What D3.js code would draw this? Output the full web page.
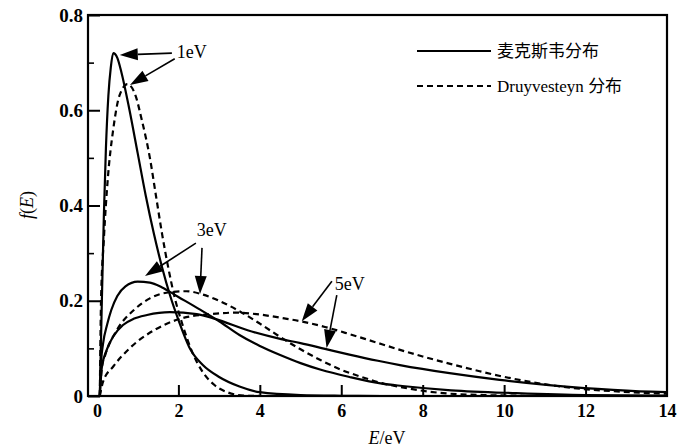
<!DOCTYPE html>
<html><head><meta charset="utf-8">
<script src="https://cdn.jsdelivr.net/npm/d3@7"></script>
<style>
html,body{margin:0;padding:0;background:#fff;}
svg{display:block;}
svg text{font-family:"Liberation Serif","Times New Roman",serif;}
</style></head>
<body>
<svg id="chart" width="677" height="448"></svg>
<script>
// ---- data ----
const xTicks = [0, 2, 4, 6, 8, 10, 12, 14];
const yTicksMajor = [0, 0.2, 0.4, 0.6, 0.8];
const yTicksMinor = [0.1, 0.3, 0.5, 0.7];
const xLabel = "E/eV";
const yLabel = "f(E)";
const legendLabels = ["麦克斯韦分布", "Druyvesteyn 分布"];

// Maxwell distribution, mean energy 1 eV
const maxwell1 = [[0.07,0],[0.12,0.2],[0.17,0.38],[0.22,0.52],[0.28,0.63],[0.34,0.69],[0.4,0.72],[0.5,0.71],[0.6,0.68],[0.8,0.6],[1.0,0.51],[1.2,0.42],[1.4,0.34],[1.6,0.27],[1.8,0.21],[2.0,0.16],[2.3,0.097],[2.6,0.065],[3.0,0.04],[3.5,0.02],[4.0,0.008],[5.0,0.002],[6.0,0.0005],[7.0,0]];
// Druyvesteyn distribution, mean energy 1 eV
const druy1 = [[0.07,0],[0.1,0.2],[0.17,0.33],[0.27,0.46],[0.4,0.56],[0.55,0.63],[0.75,0.655],[0.95,0.63],[1.1,0.58],[1.3,0.5],[1.45,0.42],[1.6,0.34],[1.75,0.27],[1.9,0.21],[2.1,0.15],[2.35,0.09],[2.6,0.05],[2.9,0.022],[3.2,0.008],[3.6,0.001],[4.0,0]];
// Maxwell, 3 eV
const maxwell3 = [[0.07,0],[0.1,0.07],[0.15,0.11],[0.25,0.15],[0.35,0.18],[0.5,0.21],[0.7,0.23],[1.0,0.24],[1.3,0.238],[1.6,0.228],[2.0,0.208],[2.5,0.183],[3.0,0.157],[3.5,0.128],[4.0,0.105],[4.5,0.086],[5.0,0.069],[5.5,0.055],[6.2,0.04],[7.0,0.026],[7.5,0.021],[8.7,0.012],[10.3,0.006],[12.0,0.002],[14.0,0.001]];
// Druyvesteyn, 3 eV
const druy3 = [[0.07,0],[0.12,0.06],[0.2,0.085],[0.5,0.14],[0.9,0.18],[1.3,0.205],[1.8,0.218],[2.2,0.22],[2.6,0.213],[3.0,0.2],[3.5,0.178],[4.0,0.152],[4.5,0.124],[5.0,0.098],[5.5,0.075],[6.0,0.055],[6.5,0.04],[7.0,0.027],[7.5,0.018],[8.0,0.011],[8.5,0.006],[9.5,0.002],[10.5,0.0005]];
// Maxwell, 5 eV
const maxwell5 = [[0.07,0],[0.12,0.06],[0.24,0.097],[0.4,0.125],[0.64,0.149],[0.9,0.162],[1.23,0.17],[1.79,0.176],[2.45,0.172],[2.9,0.162],[3.7,0.138],[4.5,0.12],[5.0,0.111],[5.6,0.099],[6.2,0.087],[6.9,0.074],[7.44,0.065],[8.66,0.048],[9.89,0.034],[11.1,0.023],[12.3,0.015],[13.6,0.009],[14.0,0.008]];
// Druyvesteyn, 5 eV
const druy5 = [[0.07,0],[0.15,0.03],[0.4,0.062],[0.8,0.1],[1.4,0.138],[2.0,0.161],[2.8,0.172],[3.4,0.175],[4.0,0.171],[4.6,0.163],[5.0,0.157],[5.6,0.145],[6.2,0.13],[6.8,0.114],[7.4,0.098],[8.0,0.083],[8.7,0.067],[9.4,0.052],[9.9,0.042],[10.7,0.029],[11.3,0.021],[11.9,0.015],[12.7,0.01],[13.6,0.006],[14.0,0.005]];

// annotations: label text + position, arrows [from, to] in data units
const annoLabels = [
  {text:"1eV", at:[1.96, 0.71]},
  {text:"3eV", at:[2.45, 0.336]},
  {text:"5eV", at:[5.84, 0.223]}
];
const annoArrows = [
  [[1.84,0.72],[0.56,0.716]],
  [[1.91,0.708],[0.81,0.653]],
  [[2.43,0.321],[1.18,0.252]],
  [[2.58,0.311],[2.53,0.214]],
  [[5.77,0.241],[5.03,0.157]],
  [[5.89,0.212],[5.64,0.101]]
];

// ---- drawing ----
const svg = d3.select("#chart");
const frame = {left:88, right:667, top:15, bottom:396};
const x = d3.scaleLinear().domain([-0.22, 14]).range([frame.left, frame.right]);
const y = d3.scaleLinear().domain([0, 0.8]).range([frame.bottom, frame.top]);
const serif = '"Liberation Serif","Times New Roman",serif';
const cjk = '"Noto Sans CJK SC",sans-serif';

// curves
const line = d3.line().x(d => x(d[0])).y(d => y(d[1])).curve(d3.curveMonotoneX);
const series = [
  {data:maxwell1, dash:null},
  {data:maxwell3, dash:null},
  {data:maxwell5, dash:null},
  {data:druy1, dash:"6,4"},
  {data:druy3, dash:"6,4"},
  {data:druy5, dash:"6,4"}
];
svg.append("g").selectAll("path").data(series).join("path")
  .attr("d", d => line(d.data))
  .attr("fill","none").attr("stroke","#000").attr("stroke-width",2.2)
  .attr("stroke-dasharray", d => d.dash);

// frame
svg.append("rect").attr("x",frame.left).attr("y",frame.top)
  .attr("width",frame.right-frame.left).attr("height",frame.bottom-frame.top)
  .attr("fill","none").attr("stroke","#000").attr("stroke-width",2.2);

// y axis (ticks inward)
const yAxis = d3.axisLeft(y).tickValues(yTicksMajor).tickSize(-12).tickPadding(5)
  .tickFormat(d => d === 0 ? "0" : d3.format(".1f")(d));
const gy = svg.append("g").attr("transform",`translate(${frame.left},0)`).call(yAxis);
gy.attr("font-family",null).attr("font-size",null);
gy.select(".domain").remove();
gy.selectAll("line").attr("stroke-width",2);
gy.selectAll("text").style("font-family",serif).style("font-size","19px").style("font-weight","bold").attr("fill","#000");
const yMinor = d3.axisLeft(y).tickValues(yTicksMinor).tickSize(-6).tickFormat("");
const gy2 = svg.append("g").attr("transform",`translate(${frame.left},0)`).call(yMinor);
gy2.select(".domain").remove();
gy2.selectAll("line").attr("stroke-width",1.6);

// x axis (ticks inward)
const xAxis = d3.axisBottom(x).tickValues(xTicks).tickSize(-11).tickPadding(8).tickFormat(d3.format("d"));
const gx = svg.append("g").attr("transform",`translate(0,${frame.bottom})`).call(xAxis);
gx.attr("font-family",null).attr("font-size",null);
gx.select(".domain").remove();
gx.selectAll("line").attr("stroke-width",2).attr("display", d => (d === 0 || d === 14) ? "none" : null);
gx.selectAll("text").style("font-family",serif).style("font-size","18px").style("font-weight","bold").attr("fill","#000");

// axis titles
const xt = svg.append("text").attr("x",387).attr("y",444).attr("text-anchor","middle")
  .style("font-family",serif).style("font-size","18px").attr("fill","#000");
xt.append("tspan").style("font-style","italic").text(xLabel.split("/")[0]);
xt.append("tspan").text("/" + xLabel.split("/")[1]);
const yt = svg.append("text").attr("transform","translate(33,205) rotate(-90)").attr("text-anchor","middle")
  .style("font-family",serif).style("font-size","18px").attr("fill","#000");
yt.append("tspan").style("font-style","italic").text("f");
yt.append("tspan").text("(");
yt.append("tspan").style("font-style","italic").text("E");
yt.append("tspan").text(")");

// annotations
svg.append("g").selectAll("text").data(annoLabels).join("text")
  .attr("x", d => x(d.at[0])).attr("y", d => y(d.at[1]))
  .style("font-family",serif).style("font-size","18px").attr("fill","#000").text(d => d.text);

const ag = svg.append("g");
annoArrows.forEach(([a,b]) => {
  const x1 = x(a[0]), y1 = y(a[1]), x2 = x(b[0]), y2 = y(b[1]);
  const ang = Math.atan2(y2-y1, x2-x1);
  const L = 18, W = 6;
  const bx = x2 - L*Math.cos(ang), by = y2 - L*Math.sin(ang);
  ag.append("line").attr("x1",x1).attr("y1",y1).attr("x2",bx).attr("y2",by)
    .attr("stroke","#000").attr("stroke-width",1.6);
  const px = -Math.sin(ang)*W, py = Math.cos(ang)*W;
  ag.append("path").attr("d",`M${x2},${y2}L${bx+px},${by+py}L${bx-px},${by-py}Z`).attr("fill","#000");
});

// legend
const leg = svg.append("g");
const legRows = [{y:51, dash:null},{y:86, dash:"6,4"}];
legRows.forEach((r,i) => {
  leg.append("line").attr("x1",417).attr("x2",491).attr("y1",r.y).attr("y2",r.y)
    .attr("stroke","#000").attr("stroke-width",2).attr("stroke-dasharray",r.dash);
  const t = leg.append("text").attr("x",497).attr("y",r.y).attr("dy","0.35em")
    .style("font-size","17px").attr("fill","#000");
  // split latin run and CJK run so each uses its own font
  const parts = legendLabels[i].match(/[\u4e00-\u9fff]+|[^\u4e00-\u9fff]+/g);
  parts.forEach(p => {
    const isCjk = /[\u4e00-\u9fff]/.test(p);
    t.append("tspan").style("font-family", isCjk ? cjk : serif).text(p);
  });
});
</script>
</body></html>
